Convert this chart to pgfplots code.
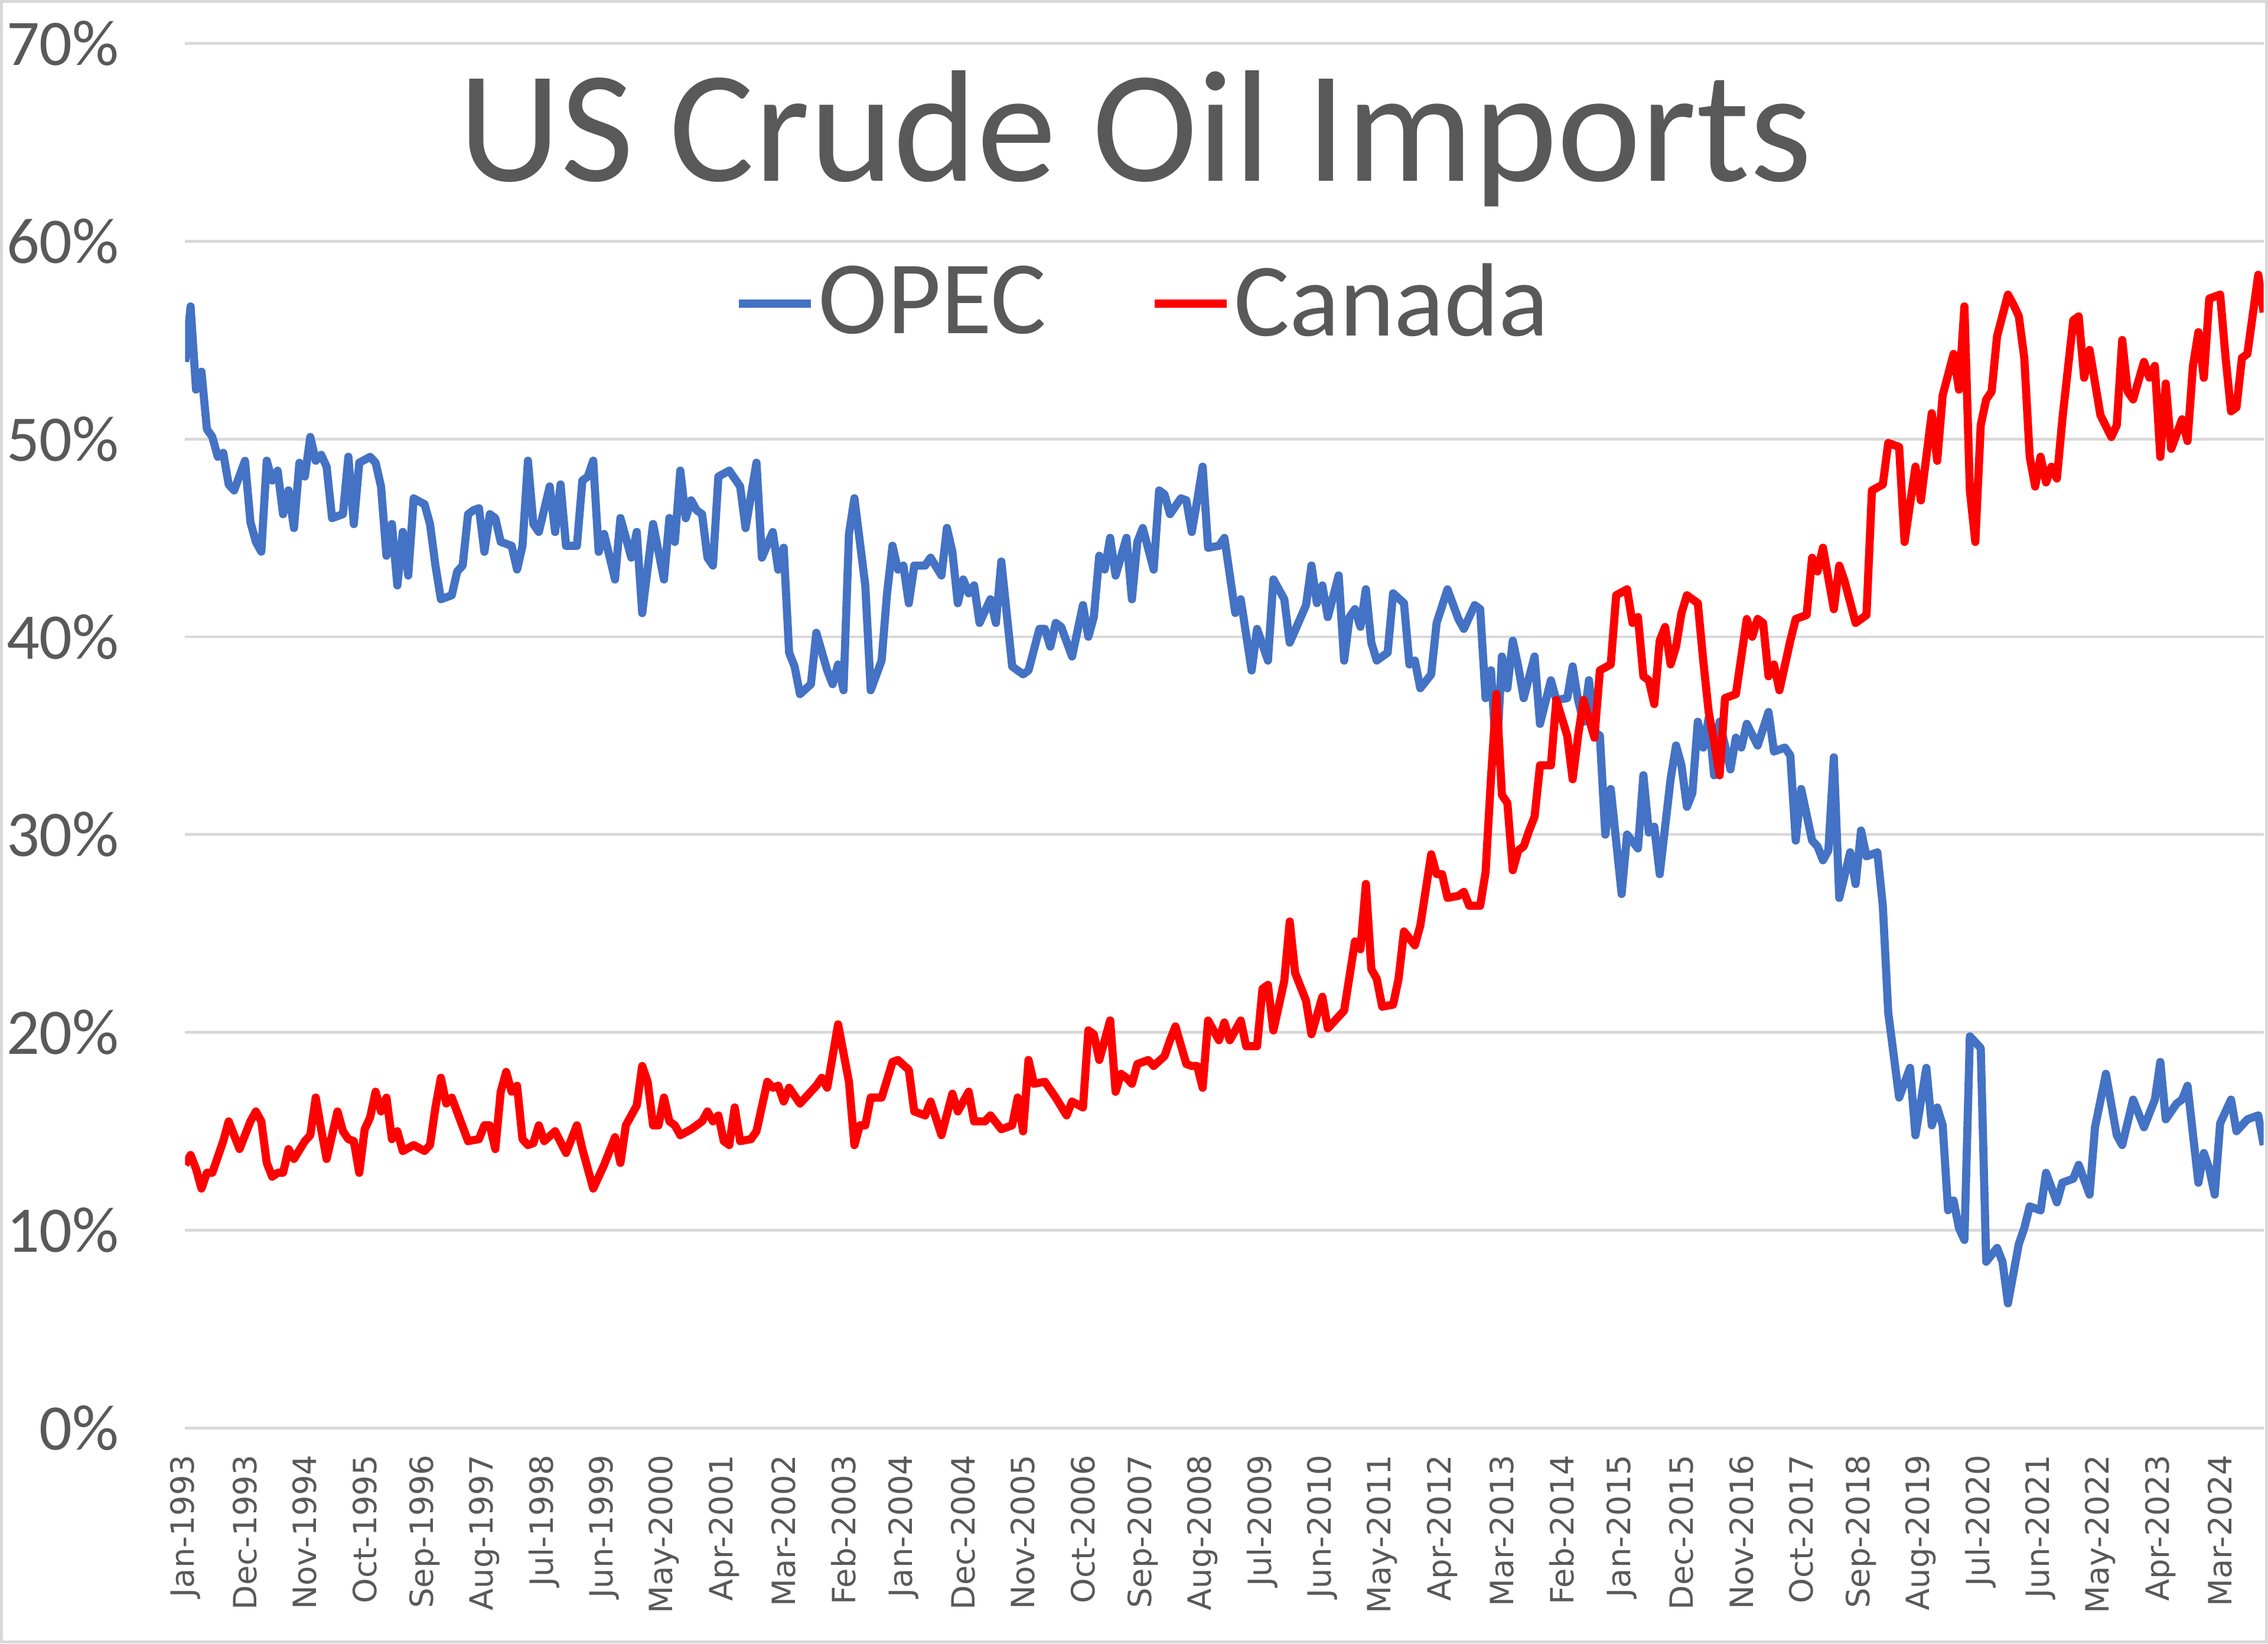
\documentclass[border=0pt]{standalone}
\usepackage{fontspec}
\setmainfont{Carlito}
\newfontfamily\tickfont{DejaVu Sans}
\usepackage{pgfplots}
\usepackage{pgfplotstable}
\pgfplotsset{compat=1.18}
\definecolor{opecblue}{HTML}{4472C4}
\definecolor{canred}{HTML}{FF0000}
\definecolor{txtgray}{HTML}{595959}
\definecolor{gridgray}{HTML}{D9D9D9}

% share of US crude oil imports, %, month index 0 = Jan-1993
\pgfplotstableread{
m v
0 53.9
1 56.7
2 52.5
3 53.4
4 50.5
5 50.1
6 49.1
7 49.3
8 47.7
9 47.4
11 48.9
12 45.8
13 44.8
14 44.3
15 48.9
16 47.9
17 48.4
18 46.2
19 47.4
20 45.5
21 48.8
22 48.1
23 50.1
24 48.9
25 49.2
26 48.6
27 46.0
29 46.2
30 49.1
31 45.7
32 48.8
34 49.1
35 48.8
36 47.6
37 44.1
38 45.7
39 42.6
40 45.3
41 43.1
42 47.0
44 46.7
45 45.7
46 43.6
47 41.9
49 42.1
50 43.3
51 43.6
52 46.2
53 46.4
54 46.5
55 44.3
56 46.2
57 46.0
58 44.8
60 44.6
61 43.4
62 44.6
63 48.9
64 45.7
65 45.3
67 47.6
68 45.3
69 47.7
70 44.6
72 44.6
73 47.9
74 48.1
75 48.9
76 44.3
77 45.2
79 42.9
80 46.0
82 44.0
83 45.3
84 41.2
86 45.7
88 42.9
89 46.0
90 44.8
91 48.4
92 46.0
93 46.9
94 46.4
95 46.2
96 44.0
97 43.6
98 48.1
100 48.4
102 47.6
103 45.5
105 48.8
106 44.0
108 45.3
109 43.4
110 44.5
111 39.2
112 38.5
113 37.1
115 37.6
116 40.2
118 38.3
119 37.6
120 38.6
121 37.3
122 45.2
123 47.0
125 42.6
126 37.3
128 38.8
129 42.2
130 44.6
131 43.4
132 43.6
133 41.7
134 43.6
136 43.6
137 44.0
139 43.1
140 45.5
141 44.3
142 41.7
143 42.9
144 42.2
145 42.6
146 40.7
148 41.9
149 40.7
150 43.8
152 38.5
154 38.1
155 38.3
157 40.4
158 40.4
159 39.5
160 40.7
161 40.5
163 39.0
165 41.6
166 40.0
167 41.0
168 44.1
169 43.4
170 45.0
171 43.1
173 45.0
174 41.9
175 44.8
176 45.5
178 43.4
179 47.4
180 47.2
181 46.2
183 47.0
184 46.9
185 45.3
186 46.9
187 48.6
188 44.5
190 44.6
191 45.0
193 41.2
194 41.9
196 38.3
197 40.4
199 38.8
200 42.9
202 41.9
203 39.7
206 41.6
207 43.6
208 41.7
209 42.6
210 41.0
212 43.1
213 38.8
214 41.0
215 41.4
216 40.5
217 42.4
218 39.7
219 38.8
221 39.2
222 42.2
224 41.7
225 38.6
226 38.8
227 37.4
229 38.1
230 40.7
232 42.4
234 40.9
235 40.4
237 41.6
238 41.4
239 36.9
240 38.3
241 33.7
242 39.0
243 37.4
244 39.8
245 38.5
246 36.9
248 39.0
249 35.6
251 37.8
252 36.8
254 36.9
255 38.5
256 36.8
257 35.7
258 37.8
259 35.2
260 35.0
261 30.0
262 32.3
264 27.0
265 30.0
267 29.3
268 33.0
269 30.1
270 30.4
271 28.0
273 32.8
274 34.5
275 33.5
276 31.4
277 32.1
278 35.7
279 34.4
280 35.9
281 33.0
282 35.7
284 33.3
285 34.9
286 34.4
287 35.6
289 34.5
291 36.2
292 34.2
294 34.4
295 34.0
296 29.7
297 32.3
299 29.7
300 29.4
301 28.7
302 29.2
303 33.9
304 26.8
306 29.1
307 27.5
308 30.2
309 28.9
311 29.1
312 26.4
313 21.0
315 16.7
317 18.2
318 14.8
320 18.2
321 15.3
322 16.2
323 15.3
324 11.0
325 11.5
326 10.1
327 9.5
328 19.8
330 19.2
331 8.4
333 9.1
334 8.4
335 6.3
337 9.3
338 10.1
339 11.2
341 11.0
342 12.9
344 11.4
345 12.4
347 12.6
348 13.3
350 11.8
351 15.2
353 17.9
355 14.8
356 14.3
358 16.6
360 15.2
362 16.6
363 18.5
364 15.6
366 16.4
367 16.6
368 17.3
370 12.4
371 13.9
372 13.1
373 11.8
374 15.4
376 16.6
377 15.0
379 15.6
381 15.8
382 14.3
}\opec

\pgfplotstableread{
m v
0 13.3
1 13.8
2 13.1
3 12.1
4 12.9
5 12.9
7 14.5
8 15.5
9 14.8
10 14.1
12 15.5
13 16.0
14 15.5
15 13.4
16 12.7
17 12.9
18 12.9
19 14.1
20 13.6
22 14.5
23 14.8
24 16.7
25 15.1
26 13.6
28 16.0
29 15.0
30 14.6
31 14.5
32 12.9
33 15.1
34 15.7
35 17.0
36 16.0
37 16.7
38 14.6
39 15.0
40 14.0
42 14.3
44 14.0
45 14.3
46 16.2
47 17.7
48 16.4
49 16.7
52 14.5
54 14.6
55 15.3
56 15.3
57 14.1
58 17.0
59 18.0
60 17.0
61 17.3
62 14.6
63 14.3
64 14.4
65 15.3
66 14.5
68 15.0
70 13.9
72 15.3
73 14.1
75 12.1
77 13.3
79 14.7
80 13.4
81 15.3
83 16.3
84 18.3
85 17.5
86 15.3
87 15.3
88 16.7
89 15.5
90 15.3
91 14.8
93 15.1
95 15.5
96 16.0
97 15.5
98 15.8
99 14.5
100 14.3
101 16.2
102 14.5
104 14.6
105 15.0
107 17.5
108 17.2
109 17.3
110 16.5
111 17.2
113 16.4
115 17.0
116 17.3
117 17.7
118 17.2
120 20.4
122 17.5
123 14.3
124 15.3
125 15.3
126 16.7
128 16.7
130 18.5
131 18.6
133 18.1
134 16.0
136 15.8
137 16.5
139 14.8
141 16.9
142 16.0
144 17.0
145 15.5
147 15.5
148 15.8
150 15.1
152 15.3
153 16.7
154 15.0
155 18.6
156 17.4
158 17.5
160 16.7
162 15.8
163 16.5
165 16.2
166 20.1
167 19.9
168 18.6
170 20.6
171 17.0
172 17.9
173 17.7
174 17.4
175 18.4
177 18.6
178 18.3
180 18.8
181 19.6
182 20.3
184 18.4
185 18.3
186 18.3
187 17.2
188 20.6
190 19.6
191 20.5
192 19.6
194 20.6
195 19.3
197 19.3
198 22.2
199 22.4
200 20.1
202 22.6
203 25.6
204 23.0
206 21.6
207 19.9
209 21.8
210 20.2
213 21.1
215 24.6
216 24.2
217 27.5
218 23.2
219 22.7
220 21.3
222 21.4
223 22.7
224 25.1
226 24.4
227 25.4
229 29.0
230 28.0
231 28.0
232 26.8
234 26.9
235 27.1
236 26.4
238 26.4
239 28.1
240 32.9
241 37.1
242 32.0
243 31.6
244 28.2
245 29.2
246 29.4
247 30.2
248 30.9
249 33.5
251 33.5
252 36.8
254 35.0
255 32.8
256 35.0
257 36.8
259 34.9
260 38.3
262 38.6
263 42.1
265 42.4
266 40.7
267 41.0
268 38.0
269 37.8
270 36.6
271 39.8
272 40.5
273 38.6
274 39.5
275 41.2
276 42.1
278 41.7
279 38.8
280 36.2
281 34.7
282 33.0
283 36.9
285 37.1
287 40.9
288 40.0
289 40.9
290 40.7
291 38.0
292 38.6
293 37.3
295 39.8
296 40.9
298 41.1
299 44.0
300 43.3
301 44.5
303 41.4
304 43.6
305 42.8
307 40.7
309 41.1
310 47.4
312 47.7
313 49.8
315 49.6
316 44.8
318 48.6
319 46.9
321 51.3
322 48.9
323 52.2
325 54.3
326 52.5
327 56.7
328 47.4
329 44.8
330 50.7
331 52.0
332 52.4
333 55.2
335 57.3
336 56.8
337 56.2
338 54.1
339 49.1
340 47.6
341 49.1
342 47.8
343 48.6
344 48.0
345 51.0
347 56.0
348 56.2
349 53.1
350 54.5
352 51.2
354 50.1
355 50.7
356 55.0
357 52.4
358 52.0
360 53.9
361 53.1
362 53.7
363 49.1
364 52.8
365 49.5
367 51.0
368 49.9
369 53.7
370 55.4
371 53.1
372 57.1
374 57.3
375 54.1
376 51.4
377 51.6
378 54.1
379 54.3
381 58.3
382 56.4
}\canada

\begin{document}
\begin{tikzpicture}
\begin{axis}[
    scale only axis,
    width=143.7mm, height=95.7mm,
    xmin=0, xmax=382, ymin=0, ymax=70,
    axis line style={draw=none},
    major tick length=0pt,
    ymajorgrids,
    grid style={draw=gridgray, line width=0.55pt},
    ytick={0,10,...,70},
    yticklabels={0\%,10\%,20\%,30\%,40\%,50\%,60\%,70\%},
    yticklabel style={font=\fontsize{12.8}{15}\selectfont, text=txtgray, inner sep=0pt, anchor=east},
    yticklabel shift=4.5mm,
    xtick={0,11,...,374},
    xticklabels={Jan-1993,Dec-1993,Nov-1994,Oct-1995,Sep-1996,Aug-1997,Jul-1998,
      Jun-1999,May-2000,Apr-2001,Mar-2002,Feb-2003,Jan-2004,Dec-2004,Nov-2005,
      Oct-2006,Sep-2007,Aug-2008,Jul-2009,Jun-2010,May-2011,Apr-2012,Mar-2013,
      Feb-2014,Jan-2015,Dec-2015,Nov-2016,Oct-2017,Sep-2018,Aug-2019,Jul-2020,
      Jun-2021,May-2022,Apr-2023,Mar-2024},
    xticklabel style={font=\tickfont\fontsize{6.3}{7.5}\selectfont, text=txtgray,
      inner sep=0pt, rotate=90, anchor=east},
    xticklabel shift=1.8mm,
    legend style={at={(rel axis cs:0.461,0.812)}, anchor=center, draw=none, fill=none,
      legend columns=2, font=\fontsize{20.5}{24}\selectfont,
      nodes={text=txtgray, inner sep=0.6pt},
      /tikz/every even column/.append style={column sep=7mm}},
    legend image code/.code={\draw[#1] (0mm,0mm) -- (5mm,0mm);},
]
\addplot[opecblue, line width=1.6pt, line join=round, mark=none] table[x=m, y=v] {\opec};
\addplot[canred, line width=1.6pt, line join=round, mark=none] table[x=m, y=v] {\canada};
\legend{OPEC, Canada}
\end{axis}

\node[anchor=base, inner sep=0pt, text=txtgray, font=\fontsize{31.3}{37}\selectfont]
  at (65.7mm,86.2mm) {US Crude Oil Imports};

\pgfresetboundingbox
\path[use as bounding box] (-12.8mm,-14.9mm) rectangle (144.0mm,98.7mm);
\draw[gridgray, line width=0.6pt] (-12.7mm,-14.8mm) rectangle (143.9mm,98.6mm);
\end{tikzpicture}
\end{document}
